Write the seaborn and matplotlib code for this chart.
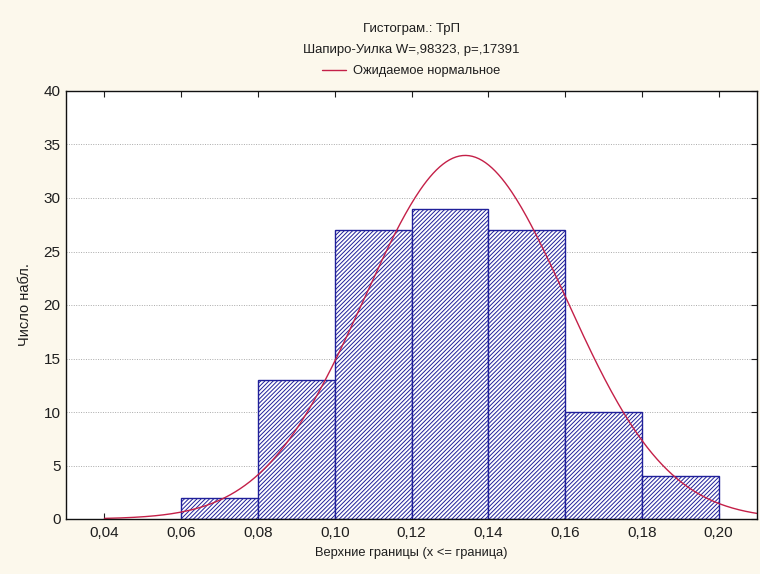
import numpy as np
import pandas as pd
import matplotlib
matplotlib.use("Agg")
import matplotlib.pyplot as plt
import seaborn as sns

# ---- data ----
bin_edges = [0.06, 0.08, 0.10, 0.12, 0.14, 0.16, 0.18, 0.20]
counts = [2, 13, 27, 29, 27, 10, 4]
x_ticks = [0.04, 0.06, 0.08, 0.10, 0.12, 0.14, 0.16, 0.18, 0.20]
x_tick_labels = ["0,04", "0,06", "0,08", "0,10", "0,12", "0,14", "0,16", "0,18", "0,20"]
y_ticks = [0, 5, 10, 15, 20, 25, 30, 35, 40]
# fitted normal (expected) parameters
norm_mean = 0.134
norm_sd = 0.0263

sns.set_theme(style="white")
plt.rcParams['font.family'] = ['Liberation Sans', 'DejaVu Sans']
plt.rcParams['hatch.linewidth'] = 0.7

bg = "#fcf8ec"
navy = "#20209a"
red = "#c42048"
txt = "#1e1e1e"

fig = plt.figure(figsize=(7.6, 5.74), dpi=100, facecolor=bg)
ax = fig.add_axes([66/760, 1-519/574, (757-66)/760, (519-91)/574])
ax.set_facecolor("white")

centers = [(a + b) / 2 for a, b in zip(bin_edges[:-1], bin_edges[1:])]
df = pd.DataFrame({"x": centers, "n": counts})
sns.histplot(data=df, x="x", weights="n", bins=bin_edges, ax=ax,
             color="white", edgecolor=navy, linewidth=1.0, alpha=1.0)
for p in ax.patches:
    p.set_hatch("////////")
    p.set_edgecolor(navy)
    p.set_facecolor("white")

# expected normal curve (scaled to counts)
N = sum(counts)
bw = bin_edges[1] - bin_edges[0]
xs = np.linspace(0.04, 0.21, 400)
ys = N * bw / (norm_sd * np.sqrt(2 * np.pi)) * np.exp(-0.5 * ((xs - norm_mean) / norm_sd) ** 2)
sns.lineplot(x=xs, y=ys, ax=ax, color=red, linewidth=1.0, label="Ожидаемое нормальное")

ax.set_xlim(0.03, 0.21)
ax.set_ylim(0, 40)
ax.set_xticks(x_ticks)
ax.set_xticklabels(x_tick_labels)
ax.set_yticks(y_ticks)
ax.set_yticklabels([str(v) for v in y_ticks])
ax.tick_params(direction="in", length=4, width=0.8, top=True, right=True,
               bottom=True, left=False, labelsize=11, colors=txt, pad=5)
ax.tick_params(axis="y", pad=4)
for s in ax.spines.values():
    s.set_color("#111111")
    s.set_linewidth(1.0)
ax.yaxis.grid(True, linestyle=(0, (1, 1.5)), color="#aaaaaa", linewidth=0.7)
ax.set_axisbelow(True)

ax.set_xlabel("Верхние границы (x <= граница)", fontsize=9.3, color=txt, labelpad=5)
ax.set_ylabel("Число набл.", fontsize=10.5, color=txt, labelpad=8)

cx = (66 + 757) / 2 / 760
fig.text(cx, 1 - 29/574, "Гистограм.: ТрП", ha="center", va="center", fontsize=9.5, color=txt)
fig.text(cx, 1 - 50/574, "Шапиро-Уилка W=,98323, p=,17391", ha="center", va="center", fontsize=9.5, color=txt)
leg = ax.legend(loc="center", bbox_to_anchor=(0.5, 1 + 20/428), frameon=False,
                fontsize=9.3, handlelength=1.8, handletextpad=0.6, borderaxespad=0)
for t in leg.get_texts():
    t.set_color(txt)

fig.savefig("out.png", dpi=100, facecolor=bg)
